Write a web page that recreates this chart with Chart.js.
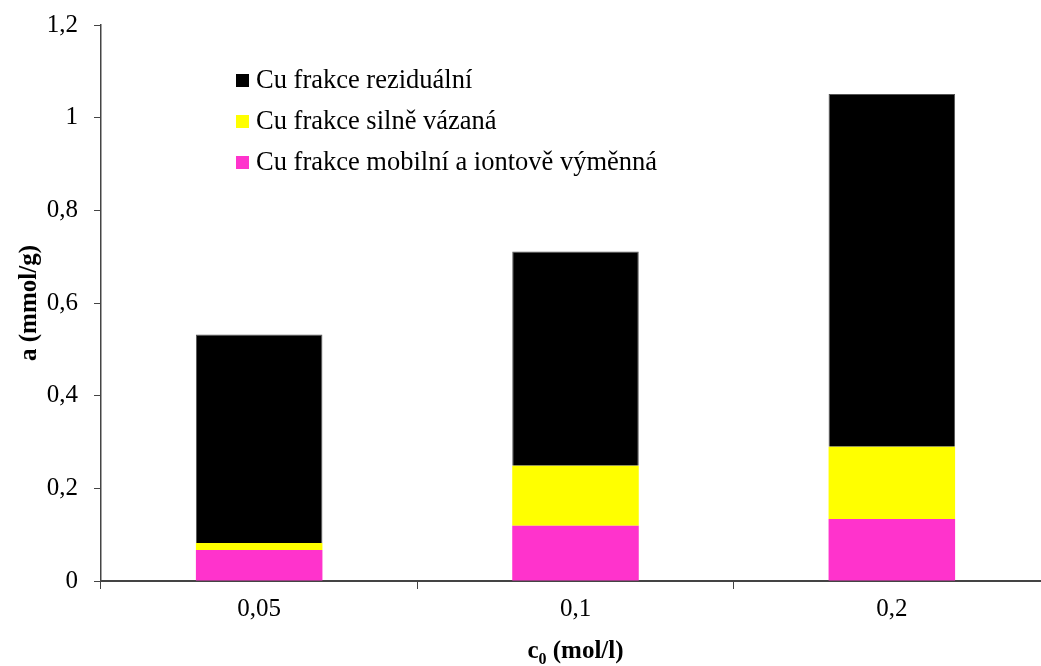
<!DOCTYPE html>
<html>
<head>
<meta charset="utf-8">
<script src="https://cdn.jsdelivr.net/npm/chart.js@4/dist/chart.umd.min.js"></script>
<style>
	html, body { margin: 0; padding: 0; background: #fff; overflow: hidden; }
	#wrap { width: 1050px; height: 666px; position: relative; }
</style>
</head>
<body>
<div id="wrap"><canvas id="cuChart"></canvas></div>
<script>
const categories = ['0,05', '0,1', '0,2'];

// fractions stacked from the bottom up
const mobilni = [0.067, 0.119, 0.134];
const silneVazana = [0.015, 0.13, 0.156];
const rezidualni = [0.45, 0.462, 0.761];

const yTicks = [0, 0.2, 0.4, 0.6, 0.8, 1, 1.2];

const serif = 'Liberation Serif';
const fontSize = 25;

const data = {
	labels: categories,
	datasets: [
		{
			label: 'Cu frakce mobilní a iontově výměnná',
			data: mobilni,
			backgroundColor: '#ff33cc',
			borderWidth: 0,
		},
		{
			label: 'Cu frakce silně vázaná',
			data: silneVazana,
			backgroundColor: '#ffff00',
			borderWidth: 0,
		},
		{
			label: 'Cu frakce reziduální',
			data: rezidualni,
			backgroundColor: '#000000',
			borderColor: '#555555',
			borderWidth: 1,
		},
	],
};

// legend sits inside the plot, top entry is the top of the stack
const insideLegend = {
	id: 'insideLegend',
	afterDraw(chart) {
		const ctx = chart.ctx;
		const sets = chart.data.datasets.slice().reverse();
		ctx.save();
		ctx.font = '26.5px "' + serif + '"';
		ctx.textBaseline = 'middle';
		sets.forEach((ds, i) => {
			const y = 80 + i * 41;
			ctx.fillStyle = ds.backgroundColor;
			ctx.fillRect(236, y - 6, 13, 13);
			ctx.fillStyle = '#000';
			ctx.fillText(ds.label, 256, y + 1);
		});
		ctx.restore();
	},
};

// x title with subscript zero
const xTitle = {
	id: 'xTitle',
	afterDraw(chart) {
		const ctx = chart.ctx;
		const area = chart.chartArea;
		const cx = (area.left + area.right) / 2;
		const base = 658;
		const big = 'bold ' + fontSize + 'px "' + serif + '"';
		const small = 'bold 16px "' + serif + '"';
		const rest = ' (mol/l)';
		ctx.save();
		ctx.fillStyle = '#000';
		ctx.textBaseline = 'alphabetic';
		ctx.textAlign = 'left';
		ctx.font = big;
		const wC = ctx.measureText('c').width;
		const wRest = ctx.measureText(rest).width;
		ctx.font = small;
		const wSub = ctx.measureText('0').width;
		let x = cx - (wC + wSub + wRest) / 2;
		ctx.font = big;
		ctx.fillText('c', x, base);
		x += wC;
		ctx.font = small;
		ctx.fillText('0', x, base + 6);
		x += wSub;
		ctx.font = big;
		ctx.fillText(rest, x, base);
		ctx.restore();
	},
};

const config = {
	type: 'bar',
	data: data,
	options: {
		responsive: true,
		maintainAspectRatio: false,
		animation: false,
		layout: { padding: { top: 25, right: 0, bottom: 0, left: 0 } },
		datasets: {
			bar: { barPercentage: 0.4, categoryPercentage: 1 },
		},
		plugins: {
			legend: { display: false },
			tooltip: { enabled: false },
		},
		scales: {
			x: {
				stacked: true,
				afterFit: (axis) => {
					axis.height = 85;
					axis.paddingLeft = 0;
					axis.paddingRight = 0;
				},
				border: { display: true, color: '#444', width: 2 },
				grid: {
					offset: true,
					drawOnChartArea: false,
					drawTicks: true,
					tickLength: 8,
					color: '#444',
				},
				ticks: {
					color: '#000',
					padding: 5,
					font: { family: serif, size: fontSize },
				},
			},
			y: {
				stacked: true,
				min: 0,
				max: 1.2,
				afterFit: (axis) => {
					axis.width = 101;
					axis.paddingTop = 0;
					axis.paddingBottom = 0;
				},
				afterBuildTicks: (axis) => {
					axis.ticks = yTicks.map((v) => ({ value: v }));
				},
				border: { display: true, color: '#444', width: 1.5 },
				grid: {
					drawOnChartArea: false,
					drawTicks: true,
					tickLength: 7,
					color: '#444',
				},
				ticks: {
					color: '#000',
					padding: 16,
					font: { family: serif, size: fontSize },
					callback: (v) => String(v).replace('.', ','),
				},
				title: {
					display: true,
					text: 'a (mmol/g)',
					color: '#000',
					padding: { top: 15, bottom: 0 },
					font: { family: serif, size: fontSize, weight: 'bold' },
				},
			},
		},
	},
	plugins: [insideLegend, xTitle],
};

const cuChart = new Chart(document.getElementById('cuChart'), config);
</script>
</body>
</html>
